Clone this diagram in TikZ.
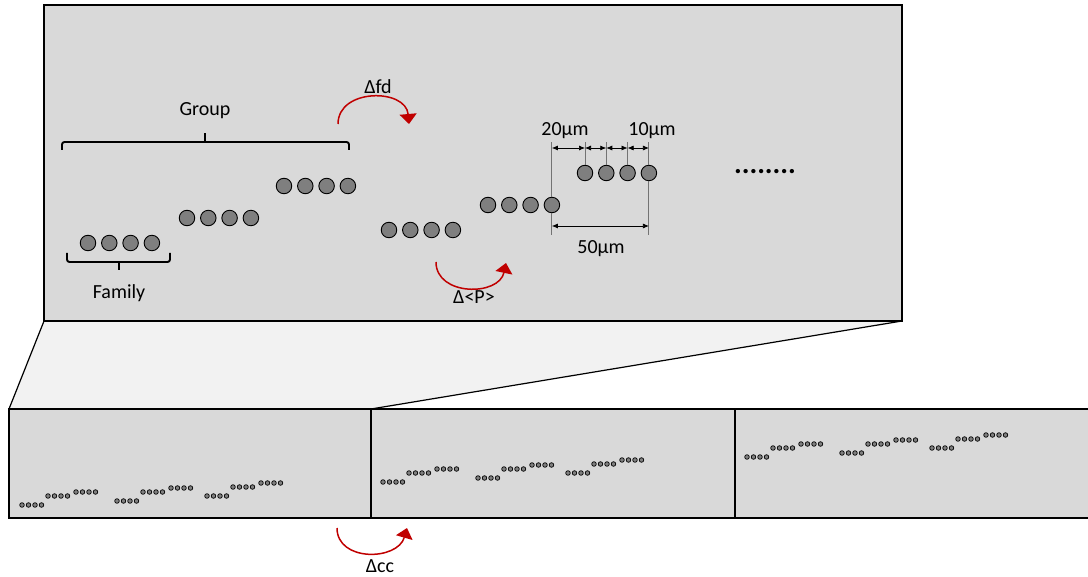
\documentclass[tikz,border=0pt]{standalone}
\usepackage{fontspec}
\setmainfont{Carlito}
\usepackage{xcolor}
\usepackage{tikz}
\usetikzlibrary{arrows.meta, positioning}

\definecolor{panelgray}{HTML}{D9D9D9}
\definecolor{funnelgray}{HTML}{F2F2F2}
\definecolor{beadgray}{HTML}{7F7F7F}
\definecolor{shiftred}{HTML}{C00000}

\begin{document}
\begin{tikzpicture}[
            x=1pt, y=-1pt,
            panel/.style={
                draw=black,
                line width=2.2pt,
                fill=panelgray
            },
            strip/.style={
                panel,
                line width=1.4pt
            },
            bead/.style={
                circle,
                draw=black,
                fill=beadgray,
                line width=0.9pt,
                minimum size=15.5pt,
                inner sep=0pt
            },
            minibead/.style={
                circle,
                draw=black,
                fill=beadgray,
                line width=0.7pt,
                minimum size=4.6pt,
                inner sep=0pt
            },
            lbl/.style={
                font=\fontsize{20}{23}\selectfont,
                inner sep=0pt
            },
            shiftarrow/.style={
                draw=shiftred,
                line width=1.5pt,
                -{Triangle[length=10pt, width=17pt]}
            },
            dimline/.style={
                draw=black,
                line width=0.7pt,
                {Latex[length=6pt, width=5pt]}-{Latex[length=6pt, width=5pt]}
            },
            extline/.style={
                draw=black!55,
                line width=0.9pt
            },
            bracket/.style={
                draw=black,
                line width=1.9pt,
                rounded corners=2.5pt
            }
        ]
            \useasboundingbox (0,0) rectangle (1088,577);

            % --- CORNERS ---
            \coordinate (znw) at (44,5);
            \coordinate (zsw) at (44,321);
            \coordinate (zse) at (902,321);
            \coordinate (s1nw) at (9,409);
            \coordinate (s2nw) at (371,409);
            \coordinate (s3nw) at (735,409);
            \coordinate (s3se) at (1100,518);

            % --- ZOOM FUNNEL ---
            \fill [funnelgray] (zsw) -- (zse) -- (s2nw) -- (s1nw) -- cycle;
            \draw [line width=1.2pt] (zsw) -- (s1nw);
            \draw [line width=1.2pt] (zse) -- (s2nw);

            % --- PANELS ---
            \draw [panel] (znw) rectangle (zse);
            \draw [strip] (s1nw) rectangle (s3se);
            \draw [strip] (s2nw) -- (s2nw |- s3se);
            \draw [strip] (s3nw) -- (s3nw |- s3se);

            % --- BEADS (ZOOM) ---
            \foreach \g in {1,2}
                \foreach \f/\fx/\fy in {1/88/243, 2/187/218, 3/284/186}
                    \foreach \b in {0,...,3}
                        \node [bead] (g\g f\f b\b) at ({\fx+301*(\g-1)+21.3*\b},{\fy-13*(\g-1)}) {};

            % --- BEADS (STRIPS) ---
            \foreach \s/\sx/\sy in {1/0/0, 2/361/-23, 3/725/-48}
                \foreach \g/\gx/\gy in {1/0/0, 2/95/-4, 3/185/-9}
                    \foreach \f/\fx/\fy in {1/0/0, 2/26/-9, 3/54/-13}
                        \foreach \b in {0,...,3}
                            \node [minibead] (s\s g\g f\f b\b) at ({22+\sx+\gx+\fx+6.5*\b},{505+\sy+\gy+\fy}) {};

            \node [lbl, font=\fontsize{29}{30}\selectfont\bfseries] (more) at (765,172) {........};

            % --- BRACKETS ---
            \coordinate (grpL) at (62,150);
            \coordinate (grpR) at (349,150);
            \coordinate (grpM) at (205,142);
            \coordinate (grpT) at (205,133);
            \coordinate (famL) at (67,253);
            \coordinate (famR) at (170,253);
            \coordinate (famM) at (119,262);
            \coordinate (famT) at (119,270);
            \draw [bracket] (grpL) |- (grpM) -| (grpR);
            \draw [bracket] (grpM) -- (grpT);
            \draw [bracket] (famL) |- (famM) -| (famR);
            \draw [bracket] (famM) -- (famT);
            \node [lbl] (group) at (205,111) {Group};
            \node [lbl] (family) at (119,293) {Family};

            % --- DIMENSIONS ---
            \coordinate (dimtop) at (0,142);
            \coordinate (dimrow) at (0,148);
            \coordinate (dimlow) at (0,235);
            \coordinate (dimbar) at (0,226);
            \draw [extline] (g2f2b3.north) -- (g2f2b3.north |- dimtop);
            \draw [extline] (g2f2b3.south) -- (g2f2b3.south |- dimlow);
            \draw [extline] (g2f3b3.south) -- (g2f3b3.south |- dimlow);
            \foreach \b in {0,...,3}
                \draw [extline] (g2f3b\b.north) -- (g2f3b\b.north |- dimtop);
            \draw [dimline] (g2f2b3 |- dimrow) -- (g2f3b0 |- dimrow);
            \draw [dimline] (g2f3b0 |- dimrow) -- (g2f3b1 |- dimrow);
            \draw [dimline] (g2f3b1 |- dimrow) -- (g2f3b2 |- dimrow);
            \draw [dimline] (g2f3b2 |- dimrow) -- (g2f3b3 |- dimrow);
            \draw [dimline] (g2f2b3 |- dimbar) -- (g2f3b3 |- dimbar);
            \node [lbl] (pitch) at (565,131) {20µm};
            \node [lbl] (gap) at (652,131) {10µm};
            \node [lbl] (span) at (601,249) {50µm};

            % --- SHIFTS ---
            \coordinate (fdA) at (338,124);
            \coordinate (fdB) at (409,124);
            \coordinate (pA) at (436,262);
            \coordinate (pB) at (506,263);
            \coordinate (ccA) at (337,528);
            \coordinate (ccB) at (407,528);
            \path [shiftarrow] (fdA) to[out=90, in=95, looseness=1.3] (fdB);
            \path [shiftarrow] (pA) to[out=-90, in=-102, looseness=1.25] (pB);
            \path [shiftarrow] (ccA) to[out=-90, in=-106, looseness=1.25] (ccB);
            \node [lbl] (fd) at (378,87) {Δfd};
            \node [lbl] (dp) at (474,297) {Δ<P>};
            \node [lbl] (cc) at (380,566) {Δcc};
        \end{tikzpicture}
\end{document}
